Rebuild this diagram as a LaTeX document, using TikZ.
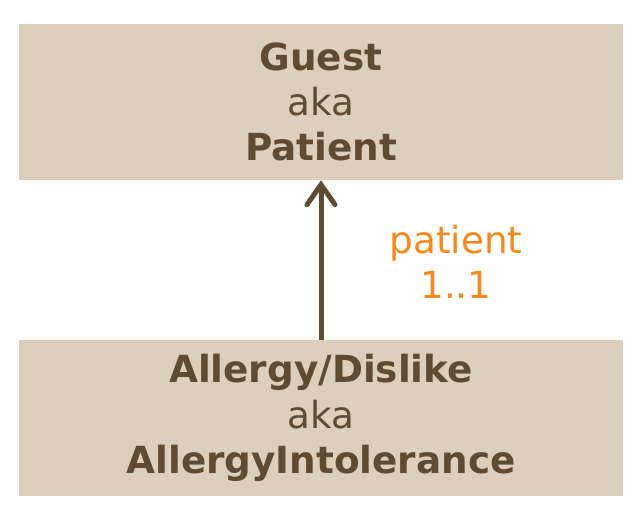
\documentclass[tikz,border=0pt]{standalone}
\usepackage{fontspec}
\setmainfont{DejaVu Sans}
\usetikzlibrary{arrows.meta}
\definecolor{boxfill}{HTML}{DCD0BC}
\definecolor{boxtext}{HTML}{5F4B32}
\definecolor{roleclr}{HTML}{F5881F}

\begin{document}
\begin{tikzpicture}[x=0.75pt,y=-0.75pt,
        entity/.style={fill=boxfill,text=boxtext,align=center,minimum width=453pt,minimum height=117pt,inner sep=0pt,font=\fontsize{28}{34}\selectfont},
        role/.style={text=roleclr,align=center,font=\fontsize{28}{34}\selectfont}]

		\useasboundingbox (0,0) rectangle (643,517);

		\node[entity] (Guest) at (321,102) {\textbf{Guest}\\aka\\\textbf{Patient}};
		\node[entity] (Allergy) at (321,418) {\textbf{Allergy/Dislike}\\aka\\\textbf{AllergyIntolerance}};

		\draw[boxtext,line width=3.75pt,-{Straight Barb[length=15pt,width=21pt,line cap=round]}] (Allergy) -- (Guest);

		\node[role] (patient) at (456,262) {patient\\1..1};

	\end{tikzpicture}
\end{document}
